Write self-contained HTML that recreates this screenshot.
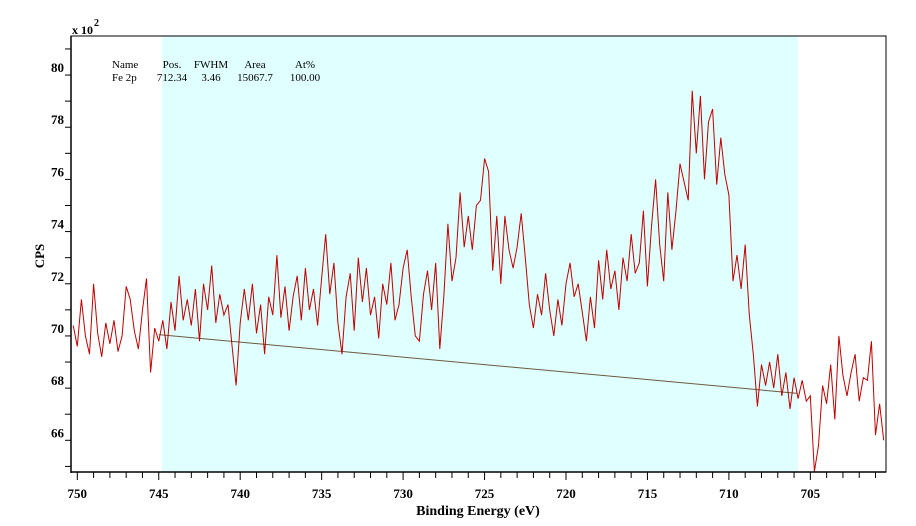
<!DOCTYPE html>
<html><head><meta charset="utf-8"><style>
body{margin:0;background:#fff}
svg{display:block;font-family:"Liberation Serif",serif}
</style></head><body>
<svg id="c" width="916" height="526"></svg>
<script>
const energies=[];for(let i=0;i<200;i++)energies.push(750.25-0.25*i);
const cps=[70.4,69.6,71.4,70.0,69.3,72.0,70.1,69.2,70.5,69.7,70.6,69.4,70.0,71.9,71.4,70.2,69.5,71.0,72.2,68.6,
70.3,69.8,70.6,69.5,71.3,70.2,72.3,70.6,71.4,70.4,71.8,69.8,72.0,71.0,72.7,70.5,71.6,70.8,71.2,69.6,
68.1,70.5,71.8,70.6,72.0,70.1,71.2,69.3,71.5,70.8,73.1,70.7,71.9,70.2,71.5,72.3,70.6,72.6,71.0,71.8,
70.4,72.2,73.9,71.6,72.8,70.5,69.3,71.5,72.4,70.2,73.0,71.3,72.6,70.8,71.5,69.9,72.0,71.2,72.8,70.6,
71.2,72.6,73.3,71.5,70.0,69.8,71.6,72.5,71.0,72.8,69.5,71.5,74.3,72.1,73.0,75.5,73.4,74.6,73.3,75.0,
75.2,76.8,76.3,72.5,74.6,72.0,74.6,73.3,72.6,73.4,74.7,73.0,71.2,70.3,71.6,70.8,72.4,71.0,70.0,71.4,
70.4,72.0,72.8,71.5,72.0,70.9,69.8,71.5,70.3,72.9,71.4,73.3,71.8,72.5,71.0,73.0,72.1,73.9,72.4,72.8,
74.8,71.9,74.2,76.0,73.5,72.1,75.5,73.3,74.8,76.6,75.9,75.2,79.4,77.0,79.2,76.0,78.2,78.7,75.8,77.6,
76.2,75.4,72.1,73.1,71.8,73.5,70.8,69.3,67.3,68.9,68.1,69.0,68.0,69.3,67.7,68.6,67.2,68.4,67.6,68.3,
67.5,67.7,64.8,65.8,68.1,67.4,68.9,66.8,70.0,68.5,67.7,68.6,69.3,67.5,68.4,68.3,69.8,66.2,67.4,66.0];
const baselineE=[745,705.8];
const baselineV=[70.05,67.8];
const regionE=[744.8,705.75];
const xTicks=[750,745,740,735,730,725,720,715,710,705];
const yTicks=[66,68,70,72,74,76,78,80];
const NS="http://www.w3.org/2000/svg",svg=document.getElementById('c');
const L=71,R=886,T=36,B=472;
const X=e=>77.3+(750-e)*16.29, Y=v=>440.3-(v-66)*26.09;
function el(t,a,txt){const n=document.createElementNS(NS,t);for(const k in a)n.setAttribute(k,a[k]);if(txt!==undefined)n.textContent=txt;svg.appendChild(n);return n;}
let r=el('rect',{x:X(regionE[0]),y:T,width:X(regionE[1])-X(regionE[0]),height:B-T,fill:'#e0ffff'});


let fr=el('rect',{x:L,y:T,width:R-L,height:B-T,fill:'none',stroke:'#000','stroke-width':1});


let bl=el('line',{x1:X(baselineE[0]),y1:Y(baselineV[0]),x2:X(baselineE[1]),y2:Y(baselineV[1]),stroke:'#6b5a3a','stroke-width':1});


let pts=energies.map((e,i)=>X(e).toFixed(1)+','+Y(cps[i]).toFixed(1)).join(' ');
let cp=el('clipPath',{id:'cl'});const cr=document.createElementNS(NS,'rect');cr.setAttribute('x',L);cr.setAttribute('y',T);cr.setAttribute('width',R-L);cr.setAttribute('height',B-T);cp.appendChild(cr);
let sp=el('polyline',{points:pts,fill:'none',stroke:'#c00000','stroke-width':1,'clip-path':'url(#cl)'});


el('line',{x1:L,y1:T,x2:L,y2:B+1,stroke:'#000','stroke-width':1.5});
el('line',{x1:L,y1:B,x2:R,y2:B,stroke:'#000','stroke-width':1.5});
for(let v=65;v<=81;v++){el('line',{x1:L-6,y1:Y(v),x2:L,y2:Y(v),stroke:'#000'});}
yTicks.forEach(v=>{let t=el('text',{x:L-7,y:Y(v)-3,'text-anchor':'end','font-size':13,'font-weight':'bold'},v);

});
for(let e=750;e>=701;e--){el('line',{x1:X(e),y1:B,x2:X(e),y2:B+(e%5==0?8:6),stroke:'#000'});}
xTicks.forEach(e=>{let t=el('text',{x:X(e),y:498,'text-anchor':'middle','font-size':13,'font-weight':'bold'},e);

});
let xt=el('text',{x:478,y:515,'text-anchor':'middle','font-size':14,'font-weight':'bold'},'Binding Energy (eV)');


let yt=el('text',{x:0,y:0,transform:'translate(44,256) rotate(-90)','text-anchor':'middle','font-size':13,'font-weight':'bold'},'CPS');


let sc=el('text',{x:72,y:34,'font-size':12,'font-weight':'bold'},'x 10');


el('text',{x:94,y:26,'font-size':10,'font-weight':'bold'},'2');
const hdr=[['Name',112,'start'],['Pos.',172,'middle'],['FWHM',211,'middle'],['Area',255,'middle'],['At%',305,'middle']];
const row=[['Fe 2p',112,'start'],['712.34',172,'middle'],['3.46',211,'middle'],['15067.7',255,'middle'],['100.00',305,'middle']];
hdr.forEach(h=>{let t=el('text',{x:h[1],y:68,'font-size':11,'text-anchor':h[2]},h[0]);

});
row.forEach(h=>{let t=el('text',{x:h[1],y:81,'font-size':11,'text-anchor':h[2]},h[0]);

});
</script>
</body></html>
